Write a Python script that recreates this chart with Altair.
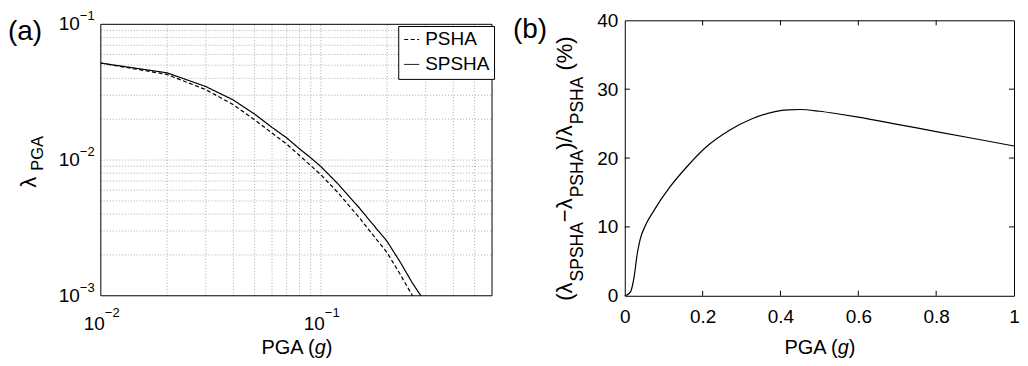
import altair as alt
import pandas as pd

FONT = "Liberation Sans"

# ---------------- Panel (a): hazard curves ----------------
pga_a = [0.01, 0.02, 0.03, 0.04, 0.05, 0.06, 0.07, 0.08, 0.09, 0.10,
         0.12, 0.15, 0.17, 0.20, 0.23, 0.26, 0.30]
lam_spsha = [0.0518, 0.0439, 0.0348, 0.0277, 0.0218, 0.0174, 0.01455, 0.0121, 0.01038, 0.00896,
             0.00664, 0.00442, 0.00345, 0.00252, 0.00176, 0.00125, 0.00088]
lam_psha = [0.0518, 0.0427, 0.0330, 0.0256, 0.0198, 0.0158, 0.0131, 0.0108, 0.0091, 0.0078,
            0.00572, 0.00374, 0.00289, 0.00208, 0.00143, 0.00101, 0.00070]
models = ["PSHA", "SPSHA"]

x_lim_a = [0.01, 0.6]
y_lim_a = [0.001, 0.1]
x_grid_a = [0.02, 0.03, 0.04, 0.05, 0.06, 0.07, 0.08, 0.09, 0.1, 0.2, 0.3, 0.4, 0.5]
y_grid_a = [0.002, 0.003, 0.004, 0.005, 0.006, 0.007, 0.008, 0.009, 0.01,
            0.02, 0.03, 0.04, 0.05, 0.06, 0.07, 0.08, 0.09]
x_dec = [0.01, 0.1]
x_dec_exp = ["\u22122", "\u22121"]
y_dec = [0.001, 0.01, 0.1]
y_dec_exp = ["\u22123", "\u22122", "\u22121"]

# ---------------- Panel (b): relative difference ----------------
pga_b = [0.0, 0.005, 0.015, 0.024, 0.032, 0.04, 0.053, 0.074, 0.116, 0.159, 0.209, 0.268,
         0.327, 0.386, 0.42, 0.45, 0.5, 0.55, 0.6, 0.7, 0.8, 0.9, 1.0]
ratio_b = [0.0, 0.1, 0.6, 2.75, 6.1, 8.3, 10.2, 12.3, 15.8, 18.7, 21.6, 24.0,
           25.7, 26.75, 27.0, 27.05, 26.8, 26.4, 25.95, 24.9, 23.85, 22.8, 21.75]
x_ticks_b = [0, 0.2, 0.4, 0.6, 0.8, 1]
y_ticks_b = [0, 10, 20, 30, 40]

W1, W2, H = 392, 390, 276
TOP_GAP = 4  # panel (a) frame sits a few px lower than panel (b)

df_a = pd.DataFrame({
    "pga": pga_a + pga_a,
    "lam": lam_psha + lam_spsha,
    "model": [models[0]] * len(pga_a) + [models[1]] * len(pga_a),
})
df_b = pd.DataFrame({"pga": pga_b, "ratio": ratio_b})

# y domain top extended so that 1e-1 lands TOP_GAP px below the panel top
extra = 2 * TOP_GAP / (H - TOP_GAP)
xa_scale = alt.Scale(type="log", domain=x_lim_a)
ya_scale = alt.Scale(type="log", domain=[y_lim_a[0], 10 ** (-1 + extra)])


def XA(f):
    return alt.X(f, type="quantitative", scale=xa_scale, axis=None)


def YA(f):
    return alt.Y(f, type="quantitative", scale=ya_scale, axis=None)


xb_scale = alt.Scale(domain=[0, 1], nice=False, zero=False)
yb_scale = alt.Scale(domain=[0, 40], nice=False)
ax_xb = alt.Axis(values=x_ticks_b, format="~g", labelFont=FONT, labelFontSize=19,
                 labelColor="black", ticks=False, domain=False, grid=False,
                 labelPadding=12, labelFlush=False, title=None)
ax_yb = alt.Axis(values=y_ticks_b, labelFont=FONT, labelFontSize=19, labelColor="black",
                 ticks=False, domain=False, grid=False, labelPadding=7,
                 labelFlush=False, title=None)


def XB(f):
    return alt.X(f, type="quantitative", scale=xb_scale, axis=ax_xb)


def YB(f):
    return alt.Y(f, type="quantitative", scale=yb_scale, axis=ax_yb)


def label(text, x, y, size, angle=0, align="left", style="normal", baseline="alphabetic"):
    return alt.Chart(pd.DataFrame({"t": [text]})).mark_text(
        font=FONT, fontSize=size, angle=angle, align=align, baseline=baseline,
        fontStyle=style, color="black"
    ).encode(text="t:N", x=alt.value(x), y=alt.value(y))


def anchor(y):
    return alt.Chart(pd.DataFrame({"t": [0]})).mark_rule(strokeOpacity=0).encode(
        x=alt.value(0), x2=alt.value(1), y=alt.value(y), y2=alt.value(y))


def xtitle(cx, y):
    return [
        label("PGA (", cx + 18.3, y, 20, align="right"),
        label("g", cx + 18.3, y, 20, style="italic"),
        label(")", cx + 29.4, y, 20),
    ]


EM = {"(": .333, ")": .333, "/": .278, " ": .278, "%": .889, "\u03bb": .55, "S": .667,
      "P": .667, "H": .722, "A": .667, "\u2212": .584}


def tw(s, size):
    return sum(EM[c] for c in s) * size


# ---- panel (a) layers ----
grid_x = alt.Chart(pd.DataFrame({"pga": x_grid_a, "lam": y_lim_a[0], "lam2": y_lim_a[1]})).mark_rule(
    color="#aaaaaa", strokeWidth=1, strokeDash=[1, 2]).encode(x=XA("pga"), y=YA("lam"), y2="lam2")
grid_y = alt.Chart(pd.DataFrame({"lam": y_grid_a, "pga": x_lim_a[0], "pga2": x_lim_a[1]})).mark_rule(
    color="#aaaaaa", strokeWidth=1, strokeDash=[1, 2]).encode(y=YA("lam"), x=XA("pga"), x2="pga2")
frame_v = alt.Chart(pd.DataFrame({"pga": x_lim_a, "lam": y_lim_a[0], "lam2": y_lim_a[1]})).mark_rule(
    color="black", strokeWidth=1).encode(x=XA("pga"), y=YA("lam"), y2="lam2")
frame_h = alt.Chart(pd.DataFrame({"lam": y_lim_a, "pga": x_lim_a[0], "pga2": x_lim_a[1]})).mark_rule(
    color="black", strokeWidth=1).encode(y=YA("lam"), x=XA("pga"), x2="pga2")

lines_a = alt.Chart(df_a).mark_line(color="black", strokeWidth=1.2, clip=True).encode(
    x=XA("pga"), y=YA("lam"),
    strokeDash=alt.StrokeDash(
        "model:N",
        scale=alt.Scale(domain=models, range=[[4, 2.5], [1, 0]]),
        legend=alt.Legend(title=None, orient="none", legendX=298, legendY=5.7,
                          direction="vertical", fillColor="white", strokeColor="black",
                          padding=4, labelFont=FONT, labelFontSize=19, labelColor="black",
                          symbolType="stroke", symbolSize=225, symbolStrokeWidth=1,
                          symbolStrokeColor="black", rowPadding=5, labelOffset=4,
                          cornerRadius=0),
    ),
)

df_ylab = pd.DataFrame({"lam": y_dec, "base": ["10"] * 3, "exp": y_dec_exp})
ylab_base = alt.Chart(df_ylab).mark_text(font=FONT, fontSize=19, align="right", baseline="middle",
                                         color="black").encode(
    y=YA("lam"), x=alt.value(-21), text="base:N")
ylab_exp = alt.Chart(df_ylab).mark_text(font=FONT, fontSize=13, align="left", baseline="middle",
                                        dy=-8, color="black").encode(
    y=YA("lam"), x=alt.value(-21), text="exp:N")

df_xlab = pd.DataFrame({"pga": x_dec, "base": ["10"] * 2, "exp": x_dec_exp})
xlab_base = alt.Chart(df_xlab).mark_text(font=FONT, fontSize=19, align="right",
                                         baseline="alphabetic", dx=4, color="black").encode(
    x=XA("pga"), y=alt.value(310.7), text="base:N")
xlab_exp = alt.Chart(df_xlab).mark_text(font=FONT, fontSize=13, align="left",
                                        baseline="alphabetic", dx=4, color="black").encode(
    x=XA("pga"), y=alt.value(297.7), text="exp:N")

panel_a = alt.layer(
    grid_x, grid_y, frame_v, frame_h, lines_a, ylab_base, ylab_exp, xlab_base, xlab_exp,
    label("\u03bb", -65, 167.7, 22, angle=270),
    label("PGA", -58, 150.7, 16.5, angle=270),
    *xtitle(196, 334.5),
    label("(a)", -93, 20.2, 28),
    anchor(-11),
).properties(width=W1, height=H, view=alt.ViewBackground(stroke=None))

# ---- panel (b) layers ----
line_b = alt.Chart(df_b).mark_line(color="black", strokeWidth=1.2, interpolate="monotone").encode(
    x=XB("pga"), y=YB("ratio"))

df_tx = pd.DataFrame({"pga": x_ticks_b[1:-1]})
df_ty = pd.DataFrame({"ratio": y_ticks_b[1:-1]})
tick_bot = alt.Chart(df_tx).mark_rule(color="black").encode(
    x=XB("pga"), y=alt.value(H), y2=alt.value(H - 5))
tick_top = alt.Chart(df_tx).mark_rule(color="black").encode(
    x=XB("pga"), y=alt.value(0), y2=alt.value(5))
tick_left = alt.Chart(df_ty).mark_rule(color="black").encode(
    y=YB("ratio"), x=alt.value(0), x2=alt.value(5))
tick_right = alt.Chart(df_ty).mark_rule(color="black").encode(
    y=YB("ratio"), x=alt.value(W2 - 5), x2=alt.value(W2))

MB, SB = -53, -42
MS, SS = 22, 17.5
pieces = [("(\u03bb", MS, MB, 0), ("SPSHA", SS, SB, 0), ("\u2212\u03bb", MS, MB, 0),
          ("PSHA", SS, SB, 0), (")/\u03bb", MS, MB, 0), ("PSHA", SS, SB, 0),
          ("(%)", MS, MB, tw(" ", MS))]
ytitle_b = []
ycur = 281.0
for txt, sz, xb, gap in pieces:
    ycur -= gap
    ytitle_b.append(label(txt, xb, ycur, sz, angle=270))
    ycur -= tw(txt, sz)

panel_b = alt.layer(
    line_b, tick_bot, tick_top, tick_left, tick_right,
    *ytitle_b,
    *xtitle(W2 / 2, 334.5),
    label("(b)", -112, 17.5, 28),
    anchor(-11),
).properties(width=W2, height=H, view=alt.ViewBackground(stroke="black", strokeWidth=1))

chart = alt.hconcat(panel_a, panel_b, spacing=19).properties(
    padding={"left": 0, "top": 0, "right": 0, "bottom": 0},
    background="white",
).configure_view(stroke=None)

chart.save("out.html", embed_options={"renderer": "svg", "actions": False})
